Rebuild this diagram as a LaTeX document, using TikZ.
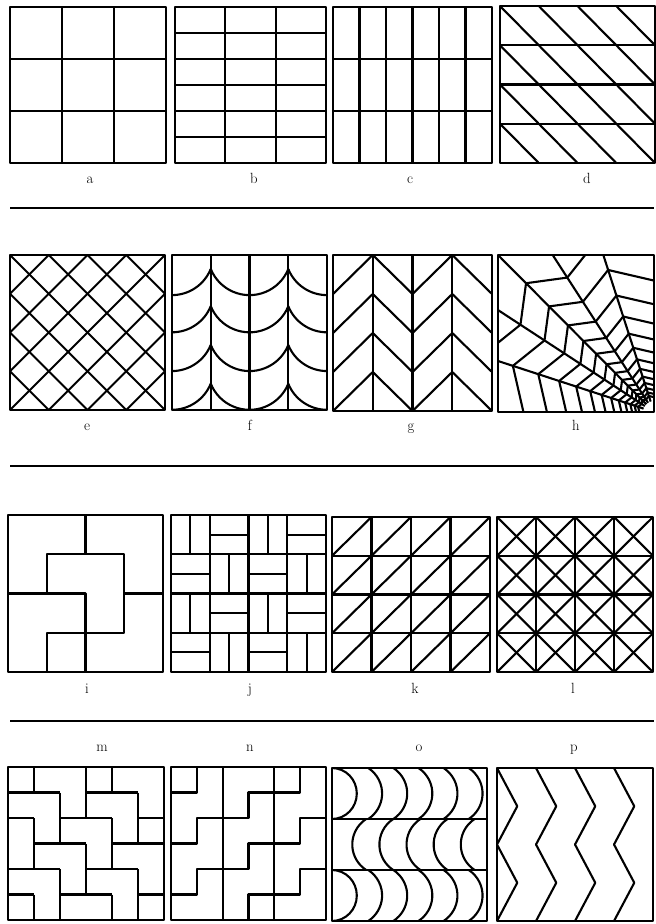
\documentclass[tikz,border=0pt]{standalone}
\usepackage{tikz}
\tikzset{
  tile/.style n args={4}{shift={(#1,#2)}, x={(#3*0.5mm,0mm)}, y={(0mm,#4*0.5mm)}},
  cells/.style n args={5}{shift={(#1,#2)}, x={(#3*0.5mm/#5,0mm)}, y={(0mm,-#4*0.5mm/#5)}},
  ink/.style={line width=1.05mm},
  border/.style={line width=1.25mm},
  sepline/.style={line width=1mm},
  lbl/.style={anchor=base, font=\fontsize{21}{25}\selectfont}
}

\begin{document}
\begin{tikzpicture}[x=0.5mm, y=-0.5mm, line join=round]
    \useasboundingbox (0,0) rectangle (656,924);

    % row 1
    \begin{scope}[tile={10}{163}{156}{156}]
        \foreach \t in {1,2} {
            \draw[ink] (\t/3,0) -- (\t/3,1);
            \draw[ink] (0,\t/3) -- (1,\t/3);
        }
        \draw[border] (0,0) rectangle (1,1);
    \end{scope}
    \begin{scope}[tile={175}{163}{151}{156}]
        \foreach \t in {1,2} \draw[ink] (\t/3,0) -- (\t/3,1);
        \foreach \t in {1,...,5} \draw[ink] (0,\t/6) -- (1,\t/6);
        \draw[border] (0,0) rectangle (1,1);
    \end{scope}
    \begin{scope}[tile={333}{163}{159}{156}]
        \foreach \t in {1,...,5} \draw[ink] (\t/6,0) -- (\t/6,1);
        \foreach \t in {1,2} \draw[ink] (0,\t/3) -- (1,\t/3);
        \draw[border] (0,0) rectangle (1,1);
    \end{scope}
    \begin{scope}[tile={500}{163}{155}{157}]
        \begin{scope}
            \clip (0,0) rectangle (1,1);
            \foreach \s in {1,...,7} \draw[ink] ({\s/4-1},1) -- ({\s/4},0);
            \foreach \t in {1,2,3} \draw[ink] (0,\t/4) -- (1,\t/4);
        \end{scope}
        \draw[border] (0,0) rectangle (1,1);
    \end{scope}
    \node[lbl] (la) at (90,183) {a};
    \node[lbl] (lb) at (254,183) {b};
    \node[lbl] (lc) at (410,183) {c};
    \node[lbl] (ld) at (587,183) {d};
    \draw[sepline] (10,208) -- (654,208);

    % row 2
    \begin{scope}[tile={10}{410}{155}{155}]
        \begin{scope}
            \clip (0,0) rectangle (1,1);
            \foreach \s in {1,...,7} {
                \draw[ink] ({\s/4-1},1) -- ({\s/4},0);
                \draw[ink] ({\s/4-1},0) -- ({\s/4},1);
            }
        \end{scope}
        \draw[border] (0,0) rectangle (1,1);
    \end{scope}
    \begin{scope}[tile={172}{410}{155}{155}]
        \foreach \t in {1,2,3} \draw[ink] (\t/4,0) -- (\t/4,1);
        \foreach \c in {0.17,0.42,0.67,0.91} {
            \draw[ink] (0.25,\c) arc[start angle=202, end angle=338, radius=0.27];
            \draw[ink] (0.25,\c) arc[start angle=338, end angle=270, radius=0.27];
            \draw[ink] (0.75,\c) arc[start angle=202, end angle=270, radius=0.27];
        }
        \draw[border] (0,0) rectangle (1,1);
    \end{scope}
    \begin{scope}[tile={333}{411}{159}{156}]
        \foreach \t in {1,2,3} \draw[ink] (\t/4,0) -- (\t/4,1);
        \foreach \v in {0,0.25,0.5,0.75}
            \draw[ink] (0,\v) -- (0.25,\v+0.25) -- (0.5,\v) -- (0.75,\v+0.25) -- (1,\v);
        \draw[border] (0,0) rectangle (1,1);
    \end{scope}
    \begin{scope}[tile={498}{412}{156}{157}]
        \begin{scope}
            \clip (0,0) rectangle (1,1);
            \begin{scope}[shift={(1,0)}]
                \foreach \a in {108,123,135,147,162} \draw[ink] (\a:0.07) -- (\a:1.6);
                \foreach \k in {-2,...,12} {
                    \pgfmathsetmacro{\r}{1.16*0.82^\k}
                    \pgfmathsetmacro{\q}{0.88*\r}
                    \draw[ink] (90:\q) -- (108:\r) -- (123:\q) -- (135:\r)
                        -- (147:\q) -- (162:\r) -- (180:\q);
                }
            \end{scope}
        \end{scope}
        \draw[border] (0,0) rectangle (1,1);
    \end{scope}
    \node[lbl] (le) at (87,430) {e};
    \node[lbl] (lf) at (250,430) {f};
    \node[lbl] (lg) at (411,430) {g};
    \node[lbl] (lh) at (576,430) {h};
    \draw[sepline] (10,466) -- (654,466);

    % row 3
    \begin{scope}[tile={8}{672}{155}{157}]
        \draw[ink] (0.5,1) -- (0.5,0.75);
        \draw[ink] (0.25,0.5) -- (0.25,0.75) -- (0.75,0.75) -- (0.75,0.25) -- (0.25,0.25) -- (0.25,0);
        \draw[ink] (0,0.5) -- (0.5,0.5) -- (0.5,0);
        \draw[ink] (0.75,0.5) -- (1,0.5);
        \draw[border] (0,0) rectangle (1,1);
    \end{scope}
    \begin{scope}[cells={171}{515}{155}{157}{8}]
        \foreach \t in {2,4,6} {
            \draw[ink] (\t,0) -- (\t,8);
            \draw[ink] (0,\t) -- (8,\t);
        }
        \foreach \c in {0,...,3}
            \foreach \r in {0,...,3} {
                \pgfmathtruncatemacro{\odd}{mod(\c+\r,2)}
                \ifnum\odd=0
                    \draw[ink] (2*\c+1,2*\r) -- (2*\c+1,2*\r+2);
                \else
                    \draw[ink] (2*\c,2*\r+1) -- (2*\c+2,2*\r+1);
                \fi
            }
        \draw[border] (0,0) rectangle (8,8);
    \end{scope}
    \begin{scope}[tile={332}{672}{158}{155}]
        \begin{scope}
            \clip (0,0) rectangle (1,1);
            \foreach \t in {1,2,3} {
                \draw[ink] (\t/4,0) -- (\t/4,1);
                \draw[ink] (0,\t/4) -- (1,\t/4);
            }
            \foreach \s in {1,...,7} \draw[ink] ({\s/4-1},0) -- ({\s/4},1);
        \end{scope}
        \draw[border] (0,0) rectangle (1,1);
    \end{scope}
    \begin{scope}[tile={497}{672}{156}{155}]
        \begin{scope}
            \clip (0,0) rectangle (1,1);
            \foreach \t in {1,2,3} {
                \draw[ink] (\t/4,0) -- (\t/4,1);
                \draw[ink] (0,\t/4) -- (1,\t/4);
            }
            \foreach \s in {1,...,7} {
                \draw[ink] ({\s/4-1},1) -- ({\s/4},0);
                \draw[ink] ({\s/4-1},0) -- ({\s/4},1);
            }
        \end{scope}
        \draw[border] (0,0) rectangle (1,1);
    \end{scope}
    \node[lbl] (li) at (87,693) {i};
    \node[lbl] (lj) at (250,693) {j};
    \node[lbl] (lk) at (415,693) {k};
    \node[lbl] (ll) at (573,693) {l};
    \draw[sepline] (10,721) -- (654,721);

    % row 4
    \node[lbl] (lm) at (102,751) {m};
    \node[lbl] (ln) at (250,751) {n};
    \node[lbl] (lo) at (419,751) {o};
    \node[lbl] (lp) at (574,751) {p};
    \begin{scope}[cells={8}{767}{156}{153}{6}]
        \begin{scope}
            \clip (0,0) rectangle (6,6);
            \foreach \x/\s in {1/-1,1/2,1/5,2/1,2/4,3/0,3/3,4/-1,4/2,4/5,5/1,5/4}
                \draw[ink] (\x,\s) -- (\x,\s+2);
            \foreach \y/\s in {1/0,1/3,2/-1,2/2,2/5,3/1,3/4,4/0,4/3,5/-1,5/2,5/5}
                \draw[ink] (\s,\y) -- (\s+2,\y);
        \end{scope}
        \draw[border] (0,0) rectangle (6,6);
    \end{scope}
    \begin{scope}[cells={171}{767}{155}{153}{6}]
        \begin{scope}
            \clip (0,0) rectangle (6,6);
            \draw[ink] (2,0) -- (2,6);
            \draw[ink] (4,0) -- (4,6);
            \foreach \y in {1,3,5,7}
                \draw[ink] (0,\y) -- (1,\y) -- (1,\y-1) -- (3,\y-1) -- (3,\y-2)
                    -- (5,\y-2) -- (5,\y-3) -- (6,\y-3);
        \end{scope}
        \draw[border] (0,0) rectangle (6,6);
    \end{scope}
    \begin{scope}[tile={332}{921}{155}{153}]
        \begin{scope}
            \clip (0,0) rectangle (1,1);
            \foreach \t in {1,2} \draw[ink] (0,\t/3) -- (1,\t/3);
            \foreach \b in {1,1/3} {
                \draw[ink] (0,\b) arc[start angle=90, end angle=-90, x radius=0.16, y radius=1/6];
                \foreach \k in {2,...,6}
                    \draw[ink] (0.162*\k-0.09,\b) arc[start angle=56.4, end angle=-56.4, radius=0.2];
            }
            \foreach \k in {1,...,5}
                \draw[ink] (0.175*\k+0.045,2/3) arc[start angle=123.6, end angle=236.4, radius=0.2];
        \end{scope}
        \draw[border] (0,0) rectangle (1,1);
    \end{scope}
    \begin{scope}[tile={497}{921}{156}{153}]
        \foreach \x in {0,0.25,0.5,0.75}
            \draw[ink] (\x,1) -- (\x+0.13,0.75) -- (\x,0.5) -- (\x+0.13,0.25) -- (\x,0);
        \draw[border] (0,0) rectangle (1,1);
    \end{scope}
\end{tikzpicture}
\end{document}
